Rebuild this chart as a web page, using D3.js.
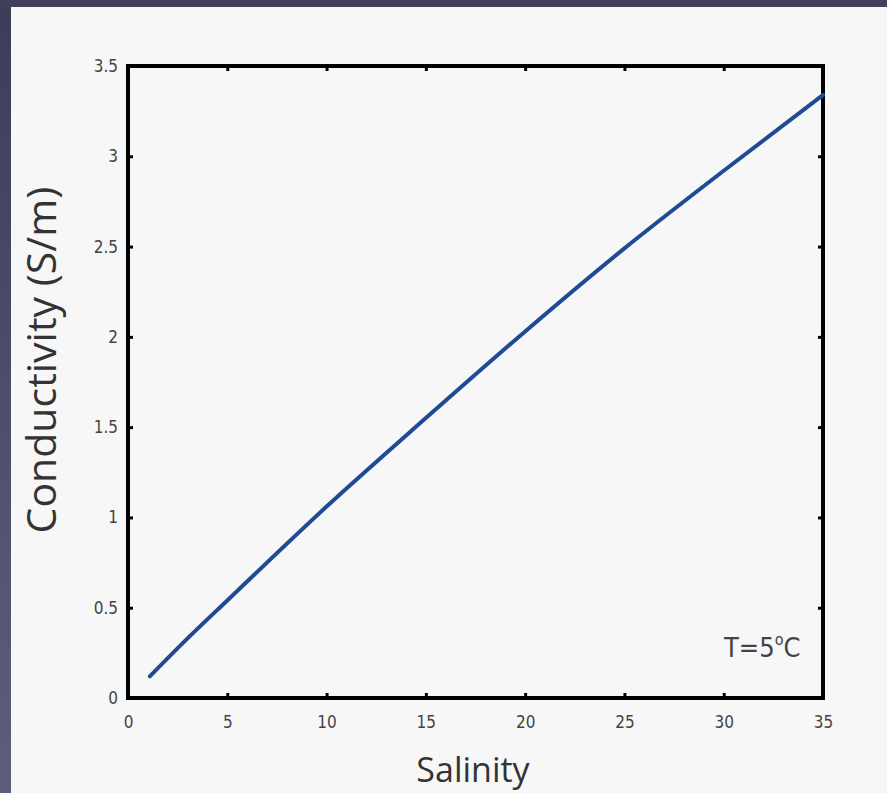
<!DOCTYPE html>
<html>
<head>
<meta charset="utf-8">
<script src="https://cdn.jsdelivr.net/npm/d3@7"></script>
<style>
  html, body { margin: 0; padding: 0; background: #40405d; }
  svg { display: block; }
</style>
</head>
<body>
<div id="chart"></div>
<script>
// salinity vs conductivity at T = 5 C
var salinity = [1.1, 3, 5, 10, 15, 20, 25, 30, 35];
var conductivity = [0.12, 0.33, 0.54, 1.06, 1.55, 2.03, 2.49, 2.92, 3.34];
var xTicks = [0, 5, 10, 15, 20, 25, 30, 35];
var yTicks = [0, 0.5, 1, 1.5, 2, 2.5, 3, 3.5];

(function() {
  var W = 887, H = 793;
  var svg = d3.select("#chart").append("svg").attr("width", W).attr("height", H);

  var defs = svg.append("defs");
  var grad = defs.append("linearGradient").attr("id", "edge").attr("x1", 0).attr("y1", 0).attr("x2", 0).attr("y2", 1);
  grad.append("stop").attr("offset", "0%").attr("stop-color", "#3d3d5a");
  grad.append("stop").attr("offset", "100%").attr("stop-color", "#5d5d7e");

  svg.append("rect").attr("width", W).attr("height", H).attr("fill", "url(#edge)");
  svg.append("rect").attr("x", 0).attr("y", 0).attr("width", W).attr("height", 7).attr("fill", "#40405d");
  svg.append("rect").attr("x", 11).attr("y", 7).attr("width", W - 11).attr("height", H - 7).attr("fill", "#f7f7f7");

  var pl = 128, pt = 66, pr = 823, pb = 698;
  var x = d3.scaleLinear().domain([0, 35]).range([pl, pr]);
  var y = d3.scaleLinear().domain([0, 3.5]).range([pb, pt]);

  var lab = "'Liberation Sans Narrow', 'DejaVu Sans Condensed', sans-serif";

  // ticks, inward on all four sides
  var g = svg.append("g");
  g.append("g").attr("transform", "translate(0," + pb + ")")
    .call(d3.axisBottom(x).tickValues(xTicks).tickSizeInner(-5).tickSizeOuter(0).tickPadding(18).tickFormat(d3.format("")));
  g.append("g").attr("transform", "translate(0," + pt + ")")
    .call(d3.axisTop(x).tickValues(xTicks).tickSizeInner(-5).tickSizeOuter(0).tickFormat(""));
  g.append("g").attr("transform", "translate(" + pl + ",0)")
    .call(d3.axisLeft(y).tickValues(yTicks).tickSizeInner(-5).tickSizeOuter(0).tickPadding(10).tickFormat(d3.format("")));
  g.append("g").attr("transform", "translate(" + pr + ",0)")
    .call(d3.axisRight(y).tickValues(yTicks).tickSizeInner(-5).tickSizeOuter(0).tickFormat(""));
  g.selectAll(".domain").remove();
  g.selectAll(".tick line").attr("stroke", "#000").attr("stroke-width", 3);
  g.selectAll(".tick text").attr("fill", "#444").style("font-family", lab).style("font-size", "17px");

  // frame
  svg.append("rect").attr("x", pl).attr("y", pt).attr("width", pr - pl).attr("height", pb - pt)
    .attr("fill", "none").attr("stroke", "#000").attr("stroke-width", 4);

  // curve
  var pts = salinity.map(function(s, i) { return [s, conductivity[i]]; });
  svg.append("path").datum(pts)
    .attr("fill", "none").attr("stroke", "#1f4a94").attr("stroke-width", 4).attr("stroke-linecap", "round")
    .attr("d", d3.line().x(function(d) { return x(d[0]); }).y(function(d) { return y(d[1]); }).curve(d3.curveMonotoneX));

  // labels
  var title = "'Open Sans', 'Noto Sans', sans-serif";
  svg.append("text").attr("x", 473).attr("y", 782).attr("text-anchor", "middle")
    .attr("fill", "#333").style("font-family", title).style("font-size", "34px").text("Salinity");
  svg.append("text").attr("transform", "translate(56,360) rotate(-90)").attr("text-anchor", "middle")
    .attr("fill", "#333").style("font-family", title).style("font-size", "41px").text("Conductivity (S/m)");

  var t = svg.append("text").attr("x", 724).attr("y", 657).attr("fill", "#444")
    .style("font-family", lab).style("font-size", "27px");
  t.append("tspan").text("T=5");
  t.append("tspan").attr("dy", -12).style("font-size", "16px").text("o");
  t.append("tspan").attr("dy", 12).text("C");
})();
</script>
</body>
</html>
